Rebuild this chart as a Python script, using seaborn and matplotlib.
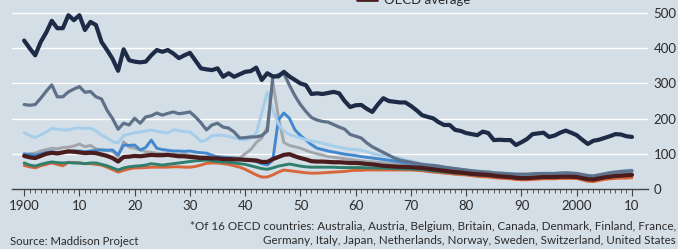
import numpy as np
import pandas as pd
import matplotlib
matplotlib.use("Agg")
import matplotlib.pyplot as plt
import seaborn as sns

# 年ごとの値 (1900-2010)
years = list(range(1900, 2011))

navy = [422, 400, 380, 418, 445, 478, 457, 457, 494, 480,
        494, 452, 475, 466, 418, 395, 370, 336, 397, 366,
        362, 360, 362, 380, 395, 390, 395, 385, 372, 380,
        387, 365, 343, 340, 338, 343, 319, 329, 319, 326,
        333, 335, 345, 310, 329, 320, 320, 333, 320, 310,
        300, 295, 270, 272, 270, 273, 276, 272, 250, 233,
        238, 239, 228, 219, 240, 258, 250, 248, 246, 246,
        236, 224, 210, 205, 201, 190, 182, 182, 168, 165,
        159, 156, 153, 163, 159, 139, 140, 139, 139, 125,
        133, 142, 156, 158, 160, 148, 152, 160, 166, 160,
        153, 140, 128, 137, 140, 145, 150, 156, 155, 150, 148]

slate = [240, 238, 240, 258, 278, 296, 262, 262, 276, 284,
         291, 275, 277, 262, 256, 224, 200, 170, 187, 182,
         201, 187, 205, 208, 216, 210, 215, 219, 214, 216,
         219, 205, 188, 168, 182, 187, 176, 173, 162, 145,
         146, 148, 148, 152, 165, 318, 325, 329, 295, 265,
         240, 220, 203, 196, 192, 190, 183, 176, 170, 155,
         150, 145, 131, 120, 112, 104, 96, 88, 82, 79,
         76, 73, 70, 68, 67, 65, 62, 60, 58, 56,
         54, 52, 50, 49, 48, 46, 45, 44, 43, 42,
         42, 42, 43, 44, 44, 44, 44, 45, 46, 45,
         44, 41, 38, 37, 40, 43, 46, 48, 50, 51, 52]

light_blue = [160, 152, 146, 154, 162, 172, 170, 168, 168, 172,
              174, 172, 173, 165, 153, 145, 135, 131, 152, 156,
              160, 162, 165, 168, 164, 162, 159, 168, 166, 163,
              162, 150, 135, 140, 152, 153, 152, 150, 145, 142,
              139, 145, 158, 215, 275, 225, 185, 165, 155, 150,
              145, 140, 136, 134, 130, 126, 122, 119, 116, 113,
              112, 110, 106, 101, 97, 95, 92, 90, 88, 83,
              79, 76, 72, 70, 68, 66, 63, 61, 58, 56,
              54, 52, 51, 50, 49, 47, 46, 45, 44, 43,
              42, 42, 43, 44, 45, 45, 45, 46, 47, 46,
              45, 42, 40, 38, 41, 44, 47, 49, 51, 53, 54]

mid_blue = [100, 98, 96, 100, 104, 106, 104, 104, 106, 108,
            108, 106, 108, 110, 111, 110, 111, 97, 125, 124,
            125, 111, 118, 139, 116, 112, 110, 108, 108, 107,
            108, 105, 103, 102, 96, 91, 90, 89, 88, 85,
            84, 82, 78, 72, 68, 82, 196, 216, 201, 168,
            152, 139, 126, 116, 112, 108, 105, 102, 99, 97,
            95, 92, 90, 88, 86, 84, 82, 80, 77, 75,
            73, 71, 69, 67, 65, 63, 61, 59, 57, 55,
            53, 51, 50, 49, 48, 46, 45, 44, 43, 42,
            41, 41, 42, 43, 43, 43, 44, 45, 45, 44,
            43, 40, 37, 36, 39, 42, 45, 47, 49, 50, 51]

grey = [97, 100, 102, 108, 112, 116, 114, 118, 119, 122,
        128, 120, 124, 114, 111, 110, 108, 92, 134, 119,
        116, 111, 106, 104, 102, 100, 100, 99, 98, 98,
        96, 94, 92, 92, 93, 92, 91, 90, 89, 88,
        100, 112, 132, 145, 176, 305, 205, 132, 124, 120,
        116, 110, 104, 100, 96, 92, 90, 88, 86, 84,
        82, 80, 78, 77, 76, 75, 74, 73, 72, 71,
        70, 68, 66, 64, 62, 60, 58, 56, 55, 53,
        51, 49, 48, 47, 46, 44, 43, 42, 41, 40,
        39, 39, 40, 41, 41, 41, 42, 43, 43, 42,
        41, 38, 35, 34, 37, 40, 43, 45, 47, 48, 49]

oecd_avg = [94, 90, 88, 94, 100, 103, 101, 104, 107, 106,
            104, 102, 103, 102, 98, 94, 88, 78, 91, 92,
            94, 93, 95, 97, 96, 96, 97, 95, 93, 93,
            91, 90, 88, 88, 87, 87, 85, 85, 84, 84,
            83, 82, 81, 77, 77, 85, 91, 97, 99, 93,
            88, 84, 79, 78, 78, 77, 76, 76, 75, 74,
            74, 73, 71, 70, 68, 66, 65, 64, 63, 63,
            62, 61, 60, 58, 56, 54, 52, 50, 48, 47,
            45, 43, 42, 41, 40, 38, 36, 35, 34, 32,
            31, 31, 32, 33, 34, 34, 34, 35, 35, 35,
            34, 31, 28, 27, 30, 33, 35, 37, 38, 39, 40]

teal = [74, 68, 65, 70, 74, 77, 75, 74, 75, 74,
        74, 72, 74, 74, 70, 66, 60, 54, 60, 63,
        65, 66, 68, 72, 70, 68, 70, 72, 74, 76,
        78, 80, 81, 82, 80, 78, 77, 76, 74, 72,
        70, 66, 62, 58, 56, 60, 65, 68, 71, 68,
        65, 63, 62, 62, 62, 62, 62, 61, 61, 61,
        61, 61, 60, 60, 60, 59, 59, 58, 58, 57,
        57, 56, 55, 53, 51, 50, 48, 47, 45, 44,
        43, 41, 40, 39, 38, 37, 36, 35, 34, 33,
        33, 33, 34, 35, 36, 36, 36, 37, 37, 37,
        36, 33, 30, 29, 32, 35, 37, 39, 40, 41, 42]

orange = [67, 63, 60, 66, 70, 74, 70, 66, 76, 75,
          74, 72, 72, 70, 68, 62, 55, 48, 53, 57,
          60, 60, 61, 62, 62, 62, 62, 63, 63, 62,
          62, 64, 68, 73, 74, 74, 72, 70, 66, 62,
          56, 48, 40, 34, 34, 40, 48, 54, 52, 50,
          48, 46, 45, 45, 46, 47, 48, 49, 50, 52,
          53, 53, 54, 54, 54, 54, 54, 54, 54, 54,
          54, 53, 52, 50, 48, 47, 45, 44, 42, 41,
          40, 38, 36, 35, 34, 32, 31, 30, 29, 27,
          26, 26, 27, 28, 29, 29, 29, 30, 30, 30,
          30, 26, 22, 21, 24, 27, 29, 30, 31, 31, 32]

x_tick_years = list(range(1900, 2011, 10))
x_tick_labels = ["1900", "10", "20", "30", "40", "50", "60", "70", "80", "90", "2000", "10"]
y_ticks = [0, 100, 200, 300, 400, 500]

bg = "#d4dee6"
text_col = "#2b2b2b"

# 描画順・色・太さ
series = [
    (orange, "#d8663a", 2.1),
    (teal, "#2f7f6c", 2.1),
    (grey, "#a2a6aa", 2.1),
    (mid_blue, "#4188cf", 2.1),
    (light_blue, "#a6cdea", 2.1),
    (slate, "#5e7189", 2.3),
    (oecd_avg, "#4a1c1e", 3.0),
    (navy, "#1d2b47", 3.0),
]

sns.set_theme(style="white")
plt.rcParams['font.family'] = ['Lato', 'DejaVu Sans']

fig = plt.figure(figsize=(6.78, 2.49), dpi=100, facecolor=bg)
ax = fig.add_axes([12 / 678, 60 / 249, 636 / 678, 184 / 249])
ax.set_facecolor(bg)

for vals, col, lw in series:
    sns.lineplot(x=years, y=vals, color=col, linewidth=lw, ax=ax)

ax.set_xlim(1897.8, 2012.9)
ax.set_ylim(0, 523)

for yv in y_ticks[1:]:
    ax.axhline(yv, color="white", linewidth=1.0, zorder=0)

for s in ["top", "left", "right"]:
    ax.spines[s].set_visible(False)
ax.spines["bottom"].set_color("#444444")
ax.spines["bottom"].set_linewidth(1.0)

ax.set_xticks(x_tick_years)
ax.set_xticklabels(x_tick_labels)
ax.set_xticks(years, minor=True)
ax.tick_params(axis="x", which="major", direction="out", length=5, width=0.8,
               color="#444444", labelsize=9.5, labelcolor=text_col, pad=3, bottom=True)
ax.tick_params(axis="x", which="minor", direction="out", length=3, width=0.6,
               color="#444444", bottom=True)

ax.yaxis.tick_right()
ax.set_yticks(y_ticks)
ax.set_yticklabels([str(v) for v in y_ticks])
ax.tick_params(axis="y", which="major", length=0, labelsize=9.5, labelcolor=text_col, pad=4)
ax.set_xlabel("")
ax.set_ylabel("")

# 上端で切れている凡例（元画像でも切れている）
fig.lines.append(plt.Line2D([357 / 678, 377 / 678], [1.0, 1.0],
                            transform=fig.transFigure, color="#4a1c1e", linewidth=2.0))
fig.text(384 / 678, 1.0, "OECD average", fontsize=9.5, color=text_col,
         ha="left", va="center")

fig.text(10 / 678, 1 - 241 / 249, "Source: Maddison Project", fontsize=8.2,
         color=text_col, ha="left", va="center")
fig.text(676 / 678, 1 - 226 / 249,
         "*Of 16 OECD countries: Australia, Austria, Belgium, Britain, Canada, Denmark, Finland, France,",
         fontsize=8.4, color=text_col, ha="right", va="center")
fig.text(676 / 678, 1 - 240 / 249,
         "Germany, Italy, Japan, Netherlands, Norway, Sweden, Switzerland, United States",
         fontsize=8.4, color=text_col, ha="right", va="center")

fig.savefig("out.png", dpi=100, facecolor=bg)
